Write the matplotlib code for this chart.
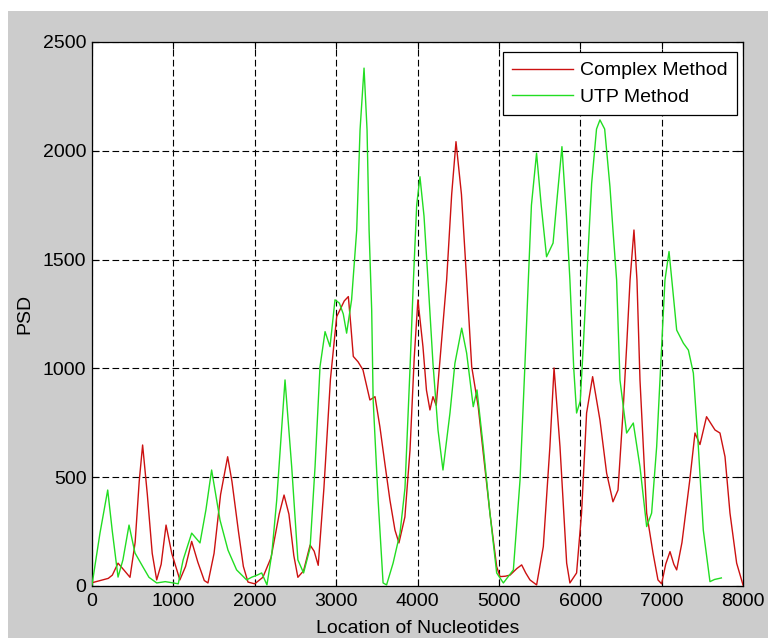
import matplotlib
matplotlib.use("Agg")
import matplotlib.pyplot as plt
from matplotlib.patches import Rectangle

# ---- data ----
complex_x = [0, 100, 200, 250, 320, 400, 467, 530, 580, 622, 680, 740, 795, 850, 910, 980,
             1080, 1150, 1225, 1300, 1380, 1425, 1500, 1580, 1667, 1720, 1800, 1860, 1917,
             2000, 2100, 2200, 2300, 2360, 2420, 2480, 2530, 2600, 2680, 2730, 2780, 2850,
             2930, 3007, 3100, 3150, 3180, 3211, 3270, 3330, 3415, 3478, 3538, 3600, 3661,
             3723, 3772, 3845, 3908, 3960, 4005, 4067, 4110, 4153, 4190, 4230, 4290, 4358,
             4420, 4473, 4540, 4604, 4666, 4746, 4808, 4890, 4973, 5014, 5080, 5137, 5220,
             5280, 5330, 5382, 5464, 5546, 5627, 5678, 5751, 5833, 5873, 5955, 6016, 6078,
             6152, 6242, 6324, 6402, 6464, 6525, 6570, 6612, 6660, 6697, 6734, 6816, 6894,
             6955, 7000, 7050, 7103, 7150, 7185, 7250, 7346, 7410, 7471, 7552, 7656, 7717,
             7779, 7840, 7922, 8000]
complex_y = [15, 25, 35, 50, 105, 70, 40, 200, 480, 648, 420, 150, 28, 100, 280, 150,
             28, 90, 205, 110, 25, 14, 150, 420, 594, 480, 250, 90, 18,
             10, 40, 130, 330, 418, 330, 140, 40, 70, 188, 160, 95, 450,
             950, 1238, 1310, 1330, 1200, 1055, 1030, 993, 855, 870, 731, 560, 395,
             257, 198, 317, 625, 1050, 1315, 1100, 900, 809, 870, 830, 1100, 1406,
             1800, 2042, 1800, 1406, 1008, 824, 611, 335, 89, 43, 45, 50, 80,
             97, 60, 28, 5, 181, 640, 1002, 640, 105, 14, 60, 335, 795,
             962, 763, 519, 387, 441, 795, 1100, 1406, 1636, 1406, 947, 335, 152,
             28, 10, 100, 158, 100, 74, 200, 487, 703, 650, 778, 717, 703,
             594, 335, 105, 5]

utp_x = [0, 98, 193, 250, 320, 380, 455, 528, 627, 700, 795, 900, 1000, 1060, 1120, 1225,
         1327, 1400, 1470, 1573, 1671, 1777, 1900, 1966, 2030, 2085, 2150, 2210, 2270, 2372,
         2454, 2530, 2600, 2680, 2741, 2802, 2864, 2925, 2986, 3040, 3088, 3129, 3190, 3253,
         3294, 3343, 3380, 3405, 3437, 3455, 3516, 3577, 3620, 3700, 3785, 3846, 3908, 3950,
         3990, 4030, 4080, 4129, 4190, 4252, 4313, 4399, 4460, 4543, 4604, 4685, 4731, 4808,
         4890, 4973, 5055, 5178, 5260, 5321, 5362, 5400, 5463, 5520, 5586, 5666, 5720, 5775,
         5830, 5873, 5920, 5955, 6000, 6037, 6078, 6140, 6200, 6242, 6300, 6365, 6402, 6447,
         6488, 6570, 6652, 6734, 6816, 6877, 6939, 7000, 7041, 7091, 7140, 7185, 7267, 7329,
         7390, 7451, 7512, 7594, 7650, 7734]
utp_y = [5, 243, 441, 250, 41, 120, 280, 152, 87, 40, 14, 20, 14, 10, 120, 243,
         198, 350, 533, 303, 165, 74, 28, 41, 50, 60, 5, 150, 395, 947,
         548, 120, 60, 175, 548, 1008, 1169, 1100, 1315, 1300, 1250, 1162, 1315, 1636,
         2096, 2380, 2096, 1636, 1268, 855, 395, 14, 5, 105, 243, 450, 1000, 1406,
         1750, 1881, 1700, 1406, 1024, 717, 533, 795, 1024, 1185, 1070, 824, 901, 640,
         335, 60, 14, 74, 487, 1024, 1406, 1750, 1989, 1750, 1513, 1576, 1800, 2019,
         1700, 1406, 1000, 795, 850, 1100, 1406, 1850, 2100, 2142, 2100, 1835, 1636, 1406,
         947, 703, 749, 548, 273, 335, 640, 1100, 1406, 1537, 1350, 1176, 1116, 1084,
         978, 640, 257, 20, 30, 37]

series_labels = ["Complex Method", "UTP Method"]
x_ticks = [0, 1000, 2000, 3000, 4000, 5000, 6000, 7000, 8000]
y_ticks = [0, 500, 1000, 1500, 2000, 2500]
x_label = "Location of Nucleotides"
y_label = "PSD"

# ---- figure ----
plt.rcParams['font.family'] = ['Liberation Sans', 'DejaVu Sans']
FS = 14
W, H = 768, 638
fig = plt.figure(figsize=(W / 100, H / 100), dpi=100, facecolor='white')
fig.patches.append(Rectangle((8 / W, 0), 1 - 8 / W, (H - 11) / H,
                             transform=fig.transFigure, facecolor='#cccccc',
                             edgecolor='none', zorder=-10))

ax = fig.add_axes([92 / W, 1 - 586 / H, (743 - 92) / W, (586 - 42) / H])
ax.set_facecolor('white')

ax.plot(complex_x, complex_y, color='#cc1111', lw=1.0, label=series_labels[0], zorder=3)
ax.plot(utp_x, utp_y, color='#22dd22', lw=1.0, label=series_labels[1], zorder=3)

ax.set_xlim(0, 8000)
ax.set_ylim(0, 2500)
ax.set_xticks(x_ticks)
ax.set_yticks(y_ticks)
ax.tick_params(direction='in', length=5, width=0.8, colors='black', labelsize=FS,
               top=True, right=True)
ax.tick_params(axis='x', pad=5)
ax.tick_params(axis='y', pad=4)
ax.grid(True, color='black', linestyle=(0, (6, 3)), linewidth=0.8)
for s in ax.spines.values():
    s.set_linewidth(0.9)
    s.set_color('black')

ax.set_xlabel(x_label, fontsize=FS, labelpad=7.5)
ax.set_ylabel(y_label, fontsize=FS, labelpad=7)

leg = ax.legend(loc='upper right', bbox_to_anchor=(0.9908, 0.9816), borderaxespad=0,
                fontsize=FS, frameon=True, fancybox=False, framealpha=1,
                edgecolor='black', handlelength=3.1, handletextpad=0.36,
                borderpad=0.5, labelspacing=0.45)
leg.get_frame().set_linewidth(0.9)

fig.savefig("out.png", dpi=100, facecolor=fig.get_facecolor())
